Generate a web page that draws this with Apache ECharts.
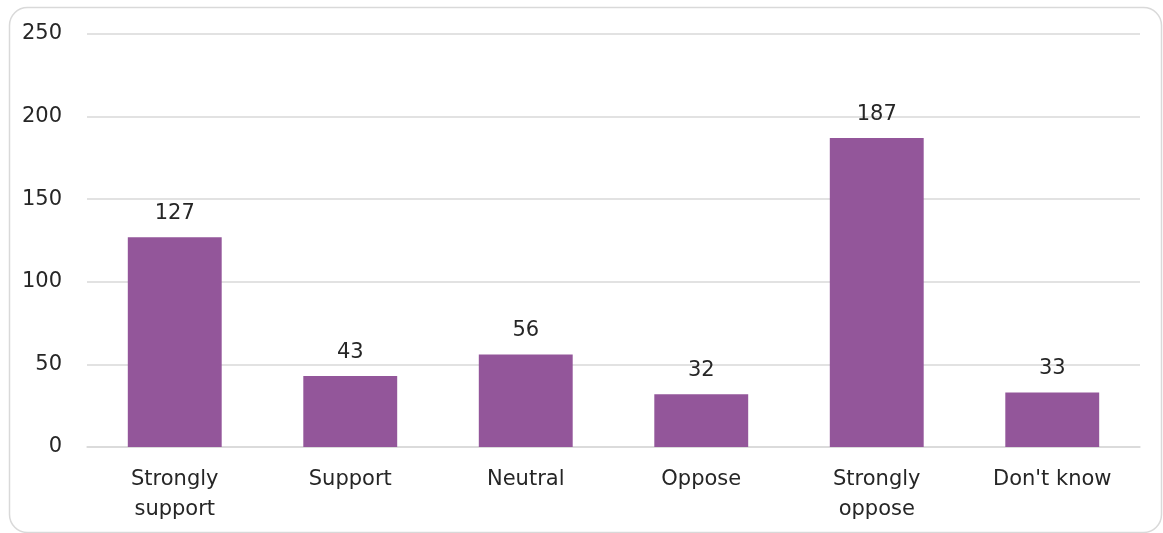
<!DOCTYPE html>
<html><head><meta charset="utf-8">
<script src="https://cdn.jsdelivr.net/npm/echarts@6/dist/echarts.min.js"></script>
<style>html,body{margin:0;padding:0;background:#fff}#c{width:1163px;height:533px}</style>
</head><body><div id="c"></div>
<script>
const categories = ["Strongly\nsupport", "Support", "Neutral", "Oppose", "Strongly\noppose", "Don't know"];
const values = [127, 43, 56, 32, 187, 33];
const yTicks = [0, 50, 100, 150, 200, 250];

const chart = echarts.init(document.getElementById('c'), null, {renderer: 'canvas'});
const font = '"DejaVu Sans", sans-serif';
chart.setOption({
  animation: false,
  backgroundColor: '#fff',
  graphic: [{
    type: 'rect', left: 7, top: 5,
    shape: {width: 1152, height: 525, r: 18},
    style: {fill: 'none', stroke: '#d9d9d9', lineWidth: 1.5},
    silent: true
  }],
  grid: {left: 87, right: 23, top: 34, bottom: 86, containLabel: false},
  xAxis: {
    type: 'category', data: categories,
    axisLine: {lineStyle: {color: '#d9d9d9', width: 1.5}},
    axisTick: {show: false},
    axisLabel: {color: '#262626', fontSize: 21, fontFamily: font, margin: 18, lineHeight: 30, interval: 0}
  },
  yAxis: {
    type: 'value', min: yTicks[0], max: yTicks[yTicks.length - 1], interval: 50,
    axisLine: {show: false}, axisTick: {show: false},
    splitLine: {lineStyle: {color: '#d9d9d9', width: 1.5}},
    axisLabel: {color: '#262626', fontSize: 21, fontFamily: font, margin: 25}
  },
  series: [{
    type: 'bar', data: values, barWidth: '53.5%',
    itemStyle: {color: '#93569A'},
    label: {show: true, position: 'top', color: '#262626', fontSize: 21, fontFamily: font, distance: 13}
  }]
});
</script></body></html>
